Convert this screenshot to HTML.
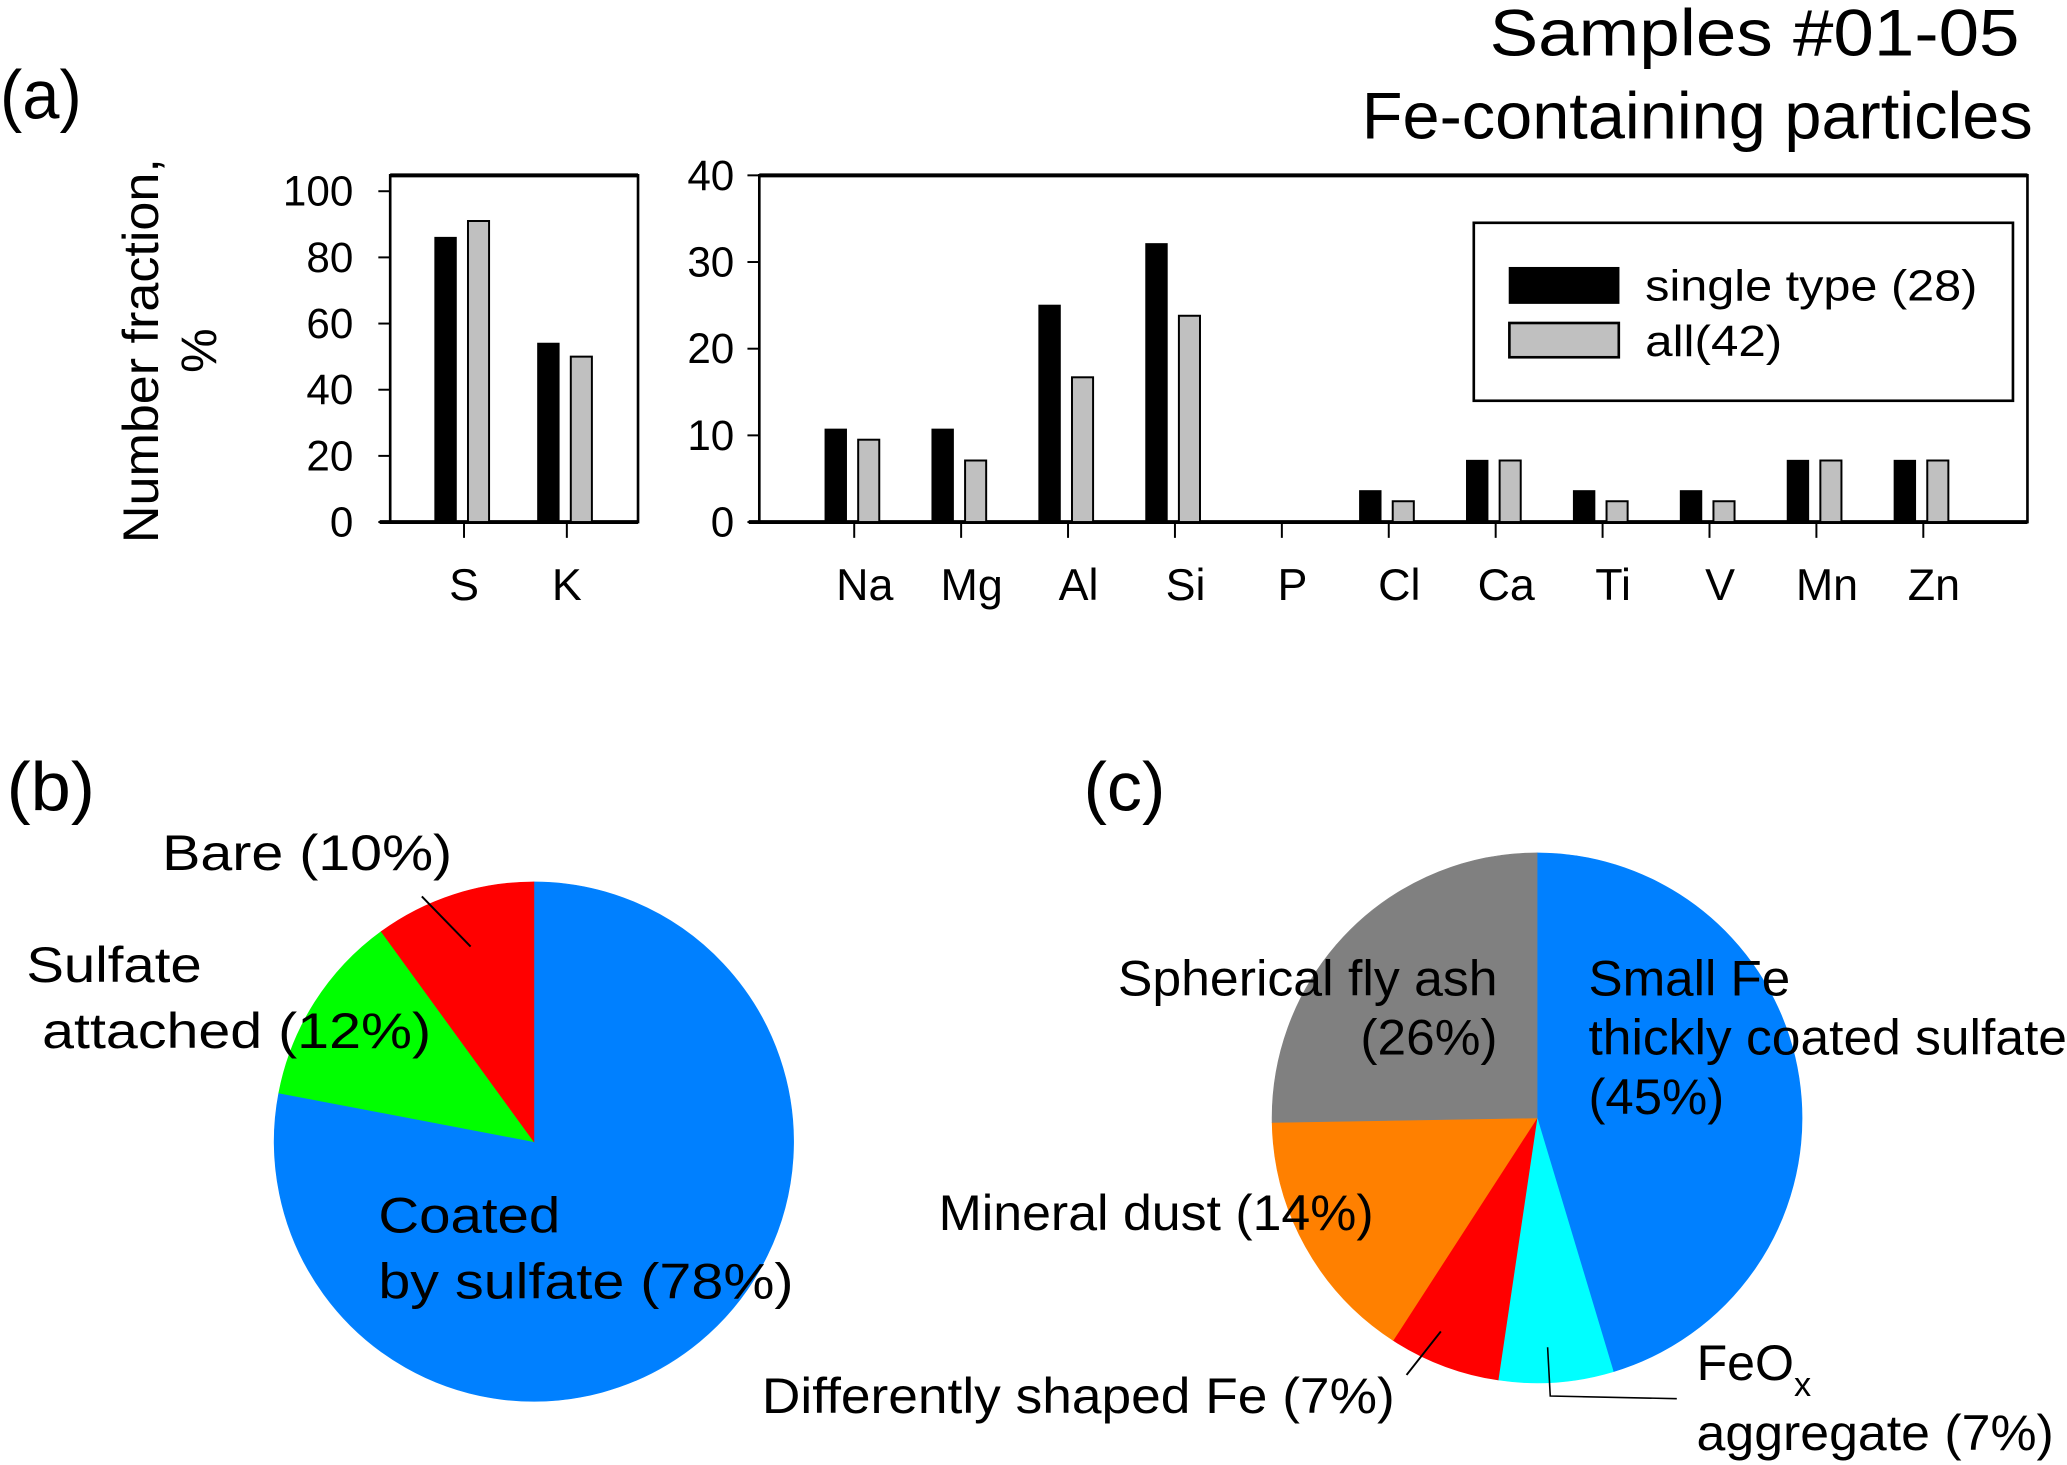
<!DOCTYPE html>
<html><head><meta charset="utf-8"><style>
html,body{margin:0;padding:0;background:#fff}
svg{display:block}
text{font-family:"Liberation Sans",sans-serif;fill:#000}
</style></head><body>
<svg id="fig" width="2067" height="1465" viewBox="0 0 1568 1111.3" xmlns="http://www.w3.org/2000/svg">
<text x="1532" y="42" font-size="50" text-anchor="end" textLength="402" lengthAdjust="spacingAndGlyphs">Samples #01-05</text>
<text x="1542" y="105" font-size="50" text-anchor="end" textLength="509" lengthAdjust="spacingAndGlyphs">Fe-containing particles</text>
<text x="0" y="90" font-size="52" textLength="62" lengthAdjust="spacingAndGlyphs">(a)</text>
<text x="5" y="615" font-size="52" textLength="67" lengthAdjust="spacingAndGlyphs">(b)</text>
<text x="822" y="615" font-size="52" textLength="62" lengthAdjust="spacingAndGlyphs">(c)</text>
<g transform="translate(120,266) rotate(-90)">
<text x="0" y="0" font-size="38" text-anchor="middle" textLength="292" lengthAdjust="spacingAndGlyphs">Number fraction,</text>
<text x="0" y="44" font-size="38" text-anchor="middle">%</text>
</g>
<g id="left"></g>
<g id="right"></g>
<g>
<rect x="1118" y="169" width="409" height="135" fill="#fff" stroke="#000" stroke-width="2"/>
<rect x="1145" y="203" width="83" height="27" fill="#000" stroke="#000"/>
<text x="1248" y="228" font-size="33" textLength="252" lengthAdjust="spacingAndGlyphs">single type (28)</text>
<rect x="1145" y="245" width="83" height="26" fill="#c0c0c0" stroke="#000" stroke-width="2"/>
<text x="1248" y="270" font-size="33" textLength="104" lengthAdjust="spacingAndGlyphs">all(42)</text>
</g>
<g id="pieb"></g>
<g id="piec"></g>
<g>
<text x="123" y="660" font-size="38" textLength="220" lengthAdjust="spacingAndGlyphs">Bare (10%)</text>
<line x1="320" y1="680" x2="357" y2="718" stroke="#000" stroke-width="1.5"/>
<text x="20" y="745" font-size="38" textLength="133" lengthAdjust="spacingAndGlyphs">Sulfate</text>
<text x="32" y="795" font-size="38" textLength="295" lengthAdjust="spacingAndGlyphs">attached (12%)</text>
<text x="287" y="935" font-size="38" textLength="138" lengthAdjust="spacingAndGlyphs">Coated</text>
<text x="287" y="985" font-size="38" textLength="315" lengthAdjust="spacingAndGlyphs">by sulfate (78%)</text>
</g>
<g>
<text x="1136" y="755" font-size="38" text-anchor="end" textLength="288" lengthAdjust="spacingAndGlyphs">Spherical fly ash</text>
<text x="1136" y="800" font-size="38" text-anchor="end" textLength="104" lengthAdjust="spacingAndGlyphs">(26%)</text>
<text x="1205" y="755" font-size="38" textLength="153" lengthAdjust="spacingAndGlyphs">Small Fe</text>
<text x="1205" y="800" font-size="38" textLength="363" lengthAdjust="spacingAndGlyphs">thickly coated sulfate</text>
<text x="1205" y="845" font-size="38" textLength="103" lengthAdjust="spacingAndGlyphs">(45%)</text>
<text x="712" y="933" font-size="38" textLength="330" lengthAdjust="spacingAndGlyphs">Mineral dust (14%)</text>
<text x="578" y="1072" font-size="38" textLength="480" lengthAdjust="spacingAndGlyphs">Differently shaped Fe (7%)</text>
<line x1="1067" y1="1043" x2="1093" y2="1010" stroke="#000" stroke-width="1.5"/>
<text x="1287" y="1047" font-size="38">FeO<tspan dy="12" font-size="26">x</tspan></text>
<text x="1287" y="1100" font-size="38" textLength="271" lengthAdjust="spacingAndGlyphs">aggregate (7%)</text>
<polyline points="1174,1022 1176,1059 1272,1061" fill="none" stroke="#000" stroke-width="1.2"/>
</g>
</svg>
<script>
const leftCats = ["S","K"];
const leftSingle = [86,54];
const leftAll = [91,50];
const leftTicks = [0,20,40,60,80,100];
const rightCats = ["Na","Mg","Al","Si","P","Cl","Ca","Ti","V","Mn","Zn"];
const rightSingle = [10.7,10.7,25,32.1,0,3.6,7.1,3.6,3.6,7.1,7.1];
const rightAll = [9.5,7.1,16.7,23.8,0,2.4,7.1,2.4,2.4,7.1,7.1];
const rightTicks = [0,10,20,30,40];
const pieBLabels = ["Coated by sulfate","Sulfate attached","Bare"];
const pieBValues = [78,12,10];
const pieBColors = ["#0080ff","#00ff00","#ff0000"];
const pieCLabels = ["Small Fe a","Small Fe b","FeOx aggregate","Differently shaped Fe","Mineral dust","Fly ash a","Fly ash b"];
const pieCValues = [2.4,43,7,6.8,15.6,11.6,13.7];
const pieCColors = ["#0080ff","#0080ff","#00ffff","#ff0000","#ff8000","#808080","#808080"];

const NS="http://www.w3.org/2000/svg";
function mk(parent,tag,attrs){const e=document.createElementNS(NS,tag);for(const k in attrs)e.setAttribute(k,attrs[k]);parent.appendChild(e);return e;}

function barChart(gid,cats,s1,s2,ticks,box,x0,step,maxV,bw,labOff,tickLabRight){
  const g=document.getElementById(gid);
  const y=v=>box.y0-(v/maxV)*(box.y0-box.top);
  const x=i=>x0+i*step;
  const f=mk(g,'rect',{x:box.l,y:box.top,width:box.r-box.l,height:box.y0-box.top,fill:'none',stroke:'#000','stroke-width':2});
  
  
  const top=mk(g,'line',{x1:box.l,x2:box.r,y1:box.top,y2:box.top,stroke:'#000','stroke-width':3});
  
  
  const base=mk(g,'line',{x1:box.l-8,x2:box.r,y1:box.y0,y2:box.y0,stroke:'#000','stroke-width':3});
  
  
  ticks.forEach(t=>{
    const l=mk(g,'line',{x1:box.l-9,x2:box.l,y1:y(t),y2:y(t),stroke:'#000','stroke-width':1.5});
    
    
    const tx=mk(g,'text',{x:tickLabRight,y:y(t)+11,'font-size':32,'text-anchor':'end'});
    tx.textContent=t;
    
    
  });
  cats.forEach((c,i)=>{
    const l=mk(g,'line',{x1:x(i),x2:x(i),y1:box.y0,y2:box.y0+12,stroke:'#000','stroke-width':1.5});
    
    
    const tx=mk(g,'text',{x:x(i)+labOff,y:455,'font-size':34,'text-anchor':'middle'});
    tx.textContent=c;
    
    
    if(s1[i]>0){const b=mk(g,'rect',{x:x(i)-bw-6,y:y(s1[i]),width:bw,height:box.y0-y(s1[i]),fill:'#000',stroke:'#000'});
      
      }
    if(s2[i]>0){const b=mk(g,'rect',{x:x(i)+3,y:y(s2[i]),width:bw,height:box.y0-y(s2[i]),fill:'#c0c0c0',stroke:'#000','stroke-width':1.5});
      
      }
  });
}
barChart('left',leftCats,leftSingle,leftAll,leftTicks,{l:296,r:484,top:133,y0:396},352,78,104.8,16,0,268);
barChart('right',rightCats,rightSingle,rightAll,rightTicks,{l:576,r:1538,top:133,y0:396},648,81.1,40,16,8,557);

function pie(gid,vals,cols,labels,cx,cy,r){
  const g=document.getElementById(gid);
  const tot=vals.reduce((a,b)=>a+b,0);
  let a=0;
  vals.forEach((v,i)=>{
    const a0=a/tot*2*Math.PI, a1=(a+v)/tot*2*Math.PI; a+=v;
    const x0=cx+r*Math.sin(a0),y0=cy-r*Math.cos(a0),x1=cx+r*Math.sin(a1),y1=cy-r*Math.cos(a1);
    const large=(a1-a0)>Math.PI?1:0;
    const p=mk(g,'path',{d:`M${cx},${cy} L${x0},${y0} A${r},${r} 0 ${large} 1 ${x1},${y1} Z`,fill:cols[i],stroke:cols[i],'stroke-width':0.5});
    
    
  });
}
pie('pieb',pieBValues,pieBColors,pieBLabels,405,866,197);
pie('piec',pieCValues,pieCColors,pieCLabels,1166,848,201);
</script>
</body></html>
